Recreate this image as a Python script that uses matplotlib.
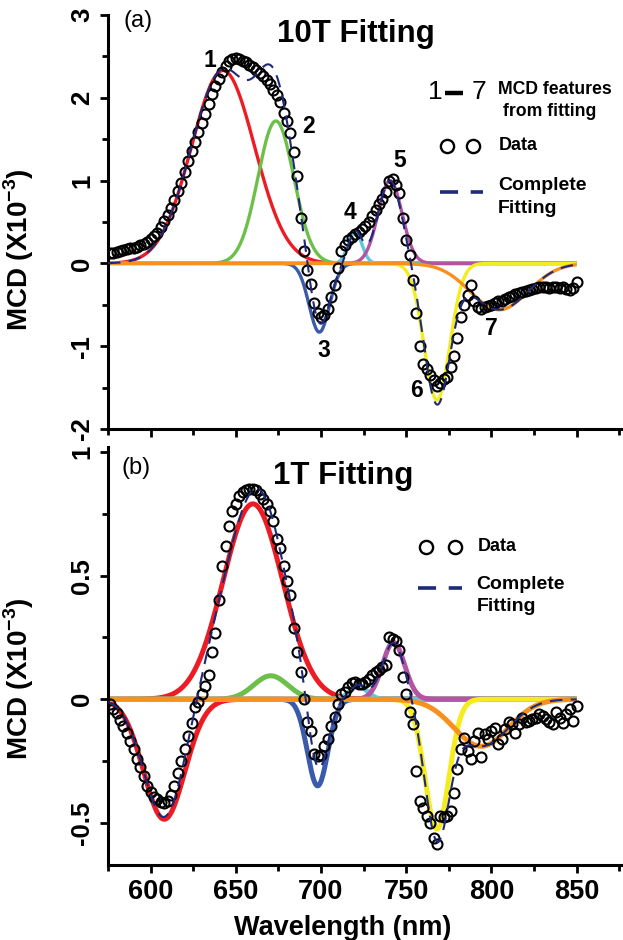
import numpy as np
import matplotlib.pyplot as plt
from matplotlib.ticker import MultipleLocator, FuncFormatter

plt.rcParams['font.family'] = ['Liberation Sans', 'DejaVu Sans']
plt.rcParams['mathtext.fontset'] = 'custom'
plt.rcParams['mathtext.rm'] = 'Liberation Sans'
plt.rcParams['mathtext.bf'] = 'Liberation Sans:bold'
plt.rcParams['axes.unicode_minus'] = False

# ------------------------------------------------------------
# data
# ------------------------------------------------------------
wl = np.arange(576, 851, 2)

mcd_10T = [0.12, 0.13, 0.14, 0.15, 0.16, 0.17, 0.18, 0.19, 0.20, 0.22,
           0.24, 0.26, 0.29, 0.33, 0.37, 0.44, 0.51, 0.59, 0.67, 0.77,
           0.87, 0.97, 1.10, 1.24, 1.36, 1.47, 1.59, 1.69, 1.81, 1.93,
           2.05, 2.14, 2.23, 2.31, 2.39, 2.45, 2.47, 2.48, 2.47, 2.45,
           2.43, 2.40, 2.37, 2.33, 2.30, 2.26, 2.22, 2.17, 2.10, 2.03,
           1.95, 1.82, 1.72, 1.57, 1.35, 1.05, 0.55, 0.15, -0.08, -0.25,
           -0.48, -0.60, -0.65, -0.62, -0.55, -0.40, -0.26, -0.05, 0.15, 0.22,
           0.28, 0.32, 0.36, 0.38, 0.41, 0.45, 0.50, 0.57, 0.64, 0.72,
           0.78, 0.86, 1.00, 1.02, 0.95, 0.85, 0.55, 0.28, 0.10, -0.20,
           -0.60, -1.00, -1.22, -1.28, -1.35, -1.41, -1.48, -1.45, -1.40, -1.37,
           -1.25, -1.12, -0.90, -0.65, -0.50, -0.38, -0.26, -0.45, -0.53, -0.55,
           -0.53, -0.52, -0.50, -0.48, -0.46, -0.45, -0.43, -0.41, -0.39, -0.37,
           -0.36, -0.35, -0.33, -0.32, -0.31, -0.30, -0.29, -0.29, -0.28, -0.30,
           -0.29, -0.28, -0.30, -0.29, -0.31, -0.32, -0.30, -0.23]

mcd_1T = [-0.02, -0.04, -0.055, -0.085, -0.11, -0.135, -0.17, -0.20, -0.24, -0.275,
          -0.31, -0.35, -0.375, -0.395, -0.405, -0.415, -0.42, -0.41, -0.385, -0.35,
          -0.30, -0.25, -0.20, -0.15, -0.095, -0.03, -0.01, 0.02, 0.055, 0.10,
          0.19, 0.27, 0.40, 0.54, 0.62, 0.70, 0.76, 0.79, 0.82, 0.84,
          0.845, 0.85, 0.85, 0.845, 0.83, 0.81, 0.79, 0.76, 0.72, 0.65,
          0.61, 0.54, 0.48, 0.42, 0.29, 0.19, 0.11, 0.0, -0.09, -0.13,
          -0.22, -0.23, -0.225, -0.19, -0.16, -0.11, -0.07, -0.02, 0.02, 0.03,
          0.05, 0.065, 0.07, 0.062, 0.06, 0.068, 0.08, 0.10, 0.11, 0.12,
          0.13, 0.14, 0.25, 0.245, 0.235, 0.20, 0.09, 0.02, -0.05, -0.10,
          -0.29, -0.41, -0.44, -0.47, -0.50, -0.56, -0.585, -0.47, -0.475, -0.47,
          -0.45, -0.38, -0.28, -0.20, -0.155, -0.21, -0.24, -0.17, -0.135, -0.235,
          -0.14, -0.16, -0.13, -0.115, -0.18, -0.16, -0.12, -0.09, -0.10, -0.135,
          -0.10, -0.075, -0.09, -0.087, -0.08, -0.075, -0.06, -0.067, -0.08, -0.09,
          -0.10, -0.05, -0.075, -0.095, -0.06, -0.04, -0.087, -0.026]

# Gaussian fitting components: centre (nm), amplitude, width (nm)
center_10T = [642.5, 673.5, 699, 720, 740.5, 768, 804.5]
amp_10T = [2.33, 1.72, -0.83, 0.38, 1.00, -1.65, -0.56]
width_10T = [18.5, 10.5, 6.0, 4.0, 7.0, 7.5, 17.0]

center_1T = [608, 660, 670.5, 698, 722, 742.5, 768, 794]
amp_1T = [-0.485, 0.79, 0.095, -0.35, 0.055, 0.23, -0.525, -0.19]
width_1T = [12.0, 17.5, 10.0, 6.0, 5.0, 6.5, 7.0, 16.0]

feature_labels = ['1', '2', '3', '4', '5', '6', '7']

RED, GREEN, BLUE, CYAN = '#ed1c24', '#6cc04a', '#3a5bab', '#5fc8dc'
MAGENTA, YELLOW, ORANGE, NAVY = '#b455a3', '#f4ec1c', '#f7901e', '#1e2a78'
colors_10T = [RED, GREEN, BLUE, CYAN, MAGENTA, YELLOW, ORANGE]
colors_1T = [RED, RED, GREEN, BLUE, CYAN, MAGENTA, YELLOW, ORANGE]

# label positions (data coords) for the numbered features in panel (a)
label_pos = [(635, 2.45), (692.7, 1.65), (701.9, -1.05), (716.8, 0.62),
             (746.2, 1.24), (756, -1.53), (800, -0.79)]

xfit = np.linspace(575, 850, 600)


def gauss(x, c, a, w):
    return a * np.exp(-0.5 * ((x - c) / w) ** 2)


def draw_panel(ax, mcd, centers, amps, widths, colors, lw):
    total = np.zeros_like(xfit)
    for c, a, w, col in zip(centers, amps, widths, colors):
        y = gauss(xfit, c, a, w)
        total += y
        ax.plot(xfit, y, color=col, lw=lw, solid_capstyle='butt', zorder=2)
    ax.plot(wl, mcd, 'o', mfc='none', mec='black', ms=7.2, mew=1.5, zorder=3)
    ax.plot(xfit, total, color=NAVY, lw=1.5, dashes=(6, 4), zorder=4)


def style(ax):
    for s in ['top', 'right']:
        ax.spines[s].set_visible(False)
    for s in ['left', 'bottom']:
        ax.spines[s].set_linewidth(2.2)
    ax.set_xlim(575, 876)
    ax.xaxis.set_major_locator(MultipleLocator(50))
    ax.xaxis.set_minor_locator(MultipleLocator(25))
    ax.tick_params(which='major', direction='out', length=6, width=2)
    ax.tick_params(which='minor', direction='out', length=4, width=2)
    ax.tick_params(axis='x', labelsize=19.5, pad=4)
    ax.tick_params(axis='y', labelsize=18.5, pad=4)
    ax.yaxis.set_major_formatter(FuncFormatter(lambda v, p: '%g' % v))
    for t in ax.get_yticklabels():
        t.set_rotation(90)
        t.set_va('center')
    for t in ax.get_xticklabels() + ax.get_yticklabels():
        t.set_fontweight('bold')


fig = plt.figure(figsize=(6.23, 9.4), dpi=100)
ax_a = fig.add_axes([108 / 623, 1 - 429 / 940, 513 / 623, 414 / 940])
ax_b = fig.add_axes([108 / 623, 1 - 865 / 940, 513 / 623, 418 / 940])

# ---------------- panel (a) 10T ----------------
draw_panel(ax_a, mcd_10T, center_10T, amp_10T, width_10T, colors_10T, 2.4)
ax_a.set_ylim(-2, 3)
ax_a.yaxis.set_major_locator(MultipleLocator(1))
ax_a.yaxis.set_minor_locator(MultipleLocator(0.5))
style(ax_a)
ax_a.tick_params(axis='x', labelbottom=False)

for lab, (x, y) in zip(feature_labels, label_pos):
    ax_a.text(x, y, lab, fontsize=16.5, fontweight='bold', ha='center', va='center')

ax_a.text(0.03, 0.985, '(a)', transform=ax_a.transAxes, fontsize=17, va='center')
ax_a.text(0.33, 0.955, '10T Fitting', transform=ax_a.transAxes, fontsize=22.5,
          fontweight='bold', va='center')

# legend (a)
ax_a.text(0.624, 0.813, '1', transform=ax_a.transAxes, fontsize=19, va='center')
ax_a.plot([0.657, 0.692], [0.812, 0.812], transform=ax_a.transAxes, color='black', lw=3.2,
          solid_capstyle='butt')
ax_a.text(0.709, 0.813, '7', transform=ax_a.transAxes, fontsize=19, va='center')
ax_a.text(0.760, 0.819, 'MCD features', transform=ax_a.transAxes, fontsize=12.7,
          fontweight='bold', va='center')
ax_a.text(0.770, 0.766, 'from fitting', transform=ax_a.transAxes, fontsize=12.7,
          fontweight='bold', va='center')
ax_a.plot([0.660, 0.712], [0.684, 0.684], 'o', transform=ax_a.transAxes, mfc='none',
          mec='black', ms=9.5, mew=1.7)
ax_a.text(0.762, 0.684, 'Data', transform=ax_a.transAxes, fontsize=13,
          fontweight='bold', va='center')
ax_a.plot([0.647, 0.731], [0.573, 0.573], transform=ax_a.transAxes, color=NAVY, lw=2.6,
          dashes=(5, 3.5))
ax_a.text(0.760, 0.588, 'Complete', transform=ax_a.transAxes, fontsize=14,
          fontweight='bold', va='center')
ax_a.text(0.760, 0.533, 'Fitting', transform=ax_a.transAxes, fontsize=14,
          fontweight='bold', va='center')

ax_a.set_ylabel(r'MCD (X10$^{\mathbf{-3}}$)', fontsize=20, fontweight='bold')
ax_a.yaxis.set_label_coords(-0.14, 0.432)

# ---------------- panel (b) 1T ----------------
draw_panel(ax_b, mcd_1T, center_1T, amp_1T, width_1T, colors_1T, 3.6)
ax_b.set_ylim(-0.67, 1.02)
ax_b.yaxis.set_major_locator(MultipleLocator(0.5))
ax_b.yaxis.set_minor_locator(MultipleLocator(0.25))
style(ax_b)

ax_b.text(0.027, 0.95, '(b)', transform=ax_b.transAxes, fontsize=17, va='center')
ax_b.text(0.322, 0.93, '1T Fitting', transform=ax_b.transAxes, fontsize=22.5,
          fontweight='bold', va='center')

ax_b.plot([0.620, 0.677], [0.761, 0.761], 'o', transform=ax_b.transAxes, mfc='none',
          mec='black', ms=9.5, mew=1.7)
ax_b.text(0.720, 0.761, 'Data', transform=ax_b.transAxes, fontsize=13,
          fontweight='bold', va='center')
ax_b.plot([0.604, 0.691], [0.662, 0.662], transform=ax_b.transAxes, color=NAVY, lw=2.6,
          dashes=(5, 3.5))
ax_b.text(0.718, 0.670, 'Complete', transform=ax_b.transAxes, fontsize=14,
          fontweight='bold', va='center')
ax_b.text(0.718, 0.618, 'Fitting', transform=ax_b.transAxes, fontsize=14,
          fontweight='bold', va='center')

ax_b.set_ylabel(r'MCD (X10$^{\mathbf{-3}}$)', fontsize=20, fontweight='bold')
ax_b.yaxis.set_label_coords(-0.14, 0.445)
ax_b.set_xlabel('Wavelength (nm)', fontsize=19.5, fontweight='bold')
ax_b.xaxis.set_label_coords(0.458, -0.12)

fig.savefig('out.png', dpi=100)
